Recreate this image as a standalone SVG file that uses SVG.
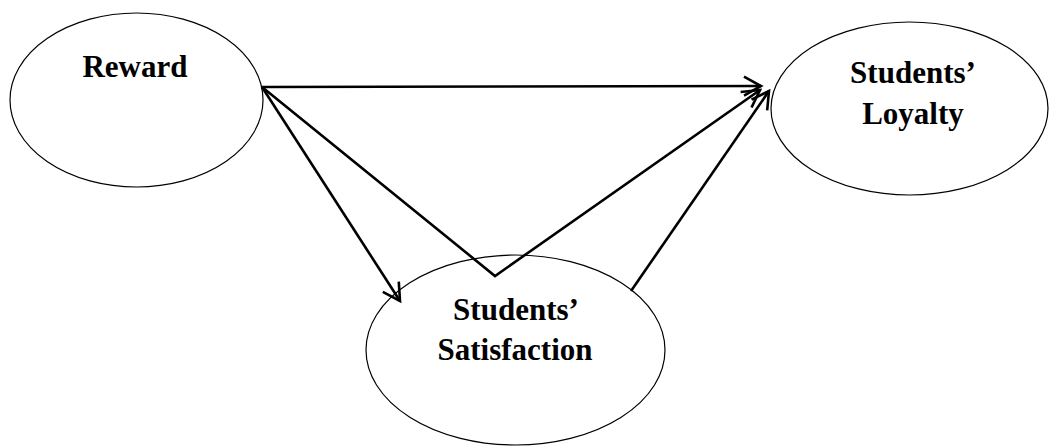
<svg xmlns="http://www.w3.org/2000/svg" width="1049" height="446" viewBox="0 0 1049 446">
<style>
.node{fill:#fff;stroke:#000;stroke-width:1.2}
.lbl{font-family:"Liberation Serif","Times New Roman",serif;font-weight:bold;font-size:31px;fill:#000;text-anchor:middle}
.edge{fill:none;stroke:#000;stroke-width:2.6;stroke-linejoin:miter}
</style>
<defs>
<marker id="arr" markerUnits="userSpaceOnUse" markerWidth="40" markerHeight="40" viewBox="-25 -20 40 40" refX="0" refY="0" orient="auto" overflow="visible">
<path d="M-17,-9.5 L0,0 L-17,9.5" fill="none" stroke="#000" stroke-width="2.6"/>
</marker>
</defs>
<rect width="1049" height="446" fill="#fff"/>
<g id="reward">
<ellipse class="node" cx="136.5" cy="100" rx="126.5" ry="87"/>
<text class="lbl" x="135" y="77">Reward</text>
</g>
<g id="loyalty">
<ellipse class="node" cx="909.5" cy="108.5" rx="138.5" ry="86.5"/>
<text class="lbl" x="913" y="83">Students’</text>
<text class="lbl" x="913" y="124">Loyalty</text>
</g>
<g id="satisfaction">
<ellipse class="node" cx="515.5" cy="350" rx="149.5" ry="95"/>
<text class="lbl" x="516" y="320">Students’</text>
<text class="lbl" x="515" y="360">Satisfaction</text>
</g>
<g id="connectors">
<path class="edge" d="M262,87 L761,86" marker-end="url(#arr)"/>
<path class="edge" d="M262,87 L400,301" marker-end="url(#arr)"/>
<path class="edge" d="M262,87 L495,276 L760,90" marker-end="url(#arr)"/>
<path class="edge" d="M631,291 L769,91" marker-end="url(#arr)"/>
</g>
</svg>
